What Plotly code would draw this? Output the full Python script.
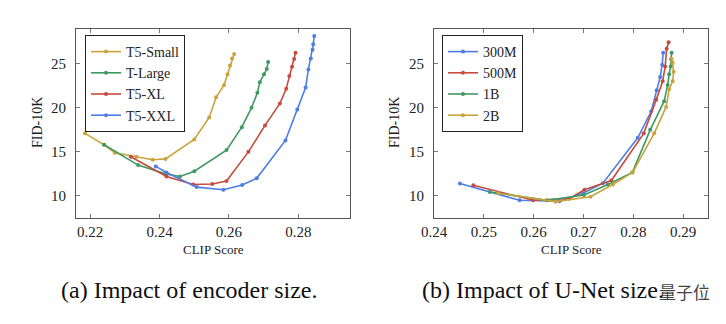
import plotly.graph_objects as go

# ---------------- data ----------------
# (a) encoder size
small_x = [0.2185, 0.2240, 0.2271, 0.2333, 0.2380, 0.2417, 0.2500, 0.2543, 0.2563, 0.2586, 0.2596, 0.2603, 0.2609, 0.2615]
small_y = [17.1, 15.8, 14.9, 14.45, 14.1, 14.2, 16.4, 18.9, 21.2, 22.6, 23.8, 24.8, 25.6, 26.1]
large_x = [0.2240, 0.2338, 0.2417, 0.2459, 0.2500, 0.2593, 0.2637, 0.2665, 0.2682, 0.2689, 0.2701, 0.2709, 0.2713]
large_y = [15.8, 13.5, 12.5, 12.2, 12.8, 15.2, 17.8, 20.0, 21.7, 22.9, 23.8, 24.4, 25.2]
xl_x = [0.2317, 0.2420, 0.2497, 0.2552, 0.2593, 0.2656, 0.2704, 0.2747, 0.2765, 0.2774, 0.2782, 0.2788, 0.2792]
xl_y = [14.45, 12.2, 11.3, 11.35, 11.7, 15.0, 18.0, 20.5, 22.15, 23.6, 24.65, 25.55, 26.25]
xxl_x = [0.2389, 0.2420, 0.2507, 0.2584, 0.2638, 0.2680, 0.2763, 0.2797, 0.2821, 0.2829, 0.2836, 0.2841, 0.2843, 0.2846]
xxl_y = [13.35, 12.65, 11.0, 10.7, 11.25, 12.0, 16.3, 19.8, 22.3, 24.35, 25.6, 26.6, 27.2, 28.15]

# (b) U-Net size
m300_x = [0.2452, 0.2572, 0.2652, 0.2699, 0.2739, 0.2809, 0.2836, 0.2847, 0.2854, 0.2858, 0.2860]
m300_y = [11.4, 9.5, 9.4, 10.3, 11.45, 16.6, 19.6, 22.0, 23.5, 24.9, 26.25]
m500_x = [0.2479, 0.2599, 0.2672, 0.2702, 0.2756, 0.2821, 0.2846, 0.2859, 0.2864, 0.2867, 0.2871]
m500_y = [11.2, 9.5, 9.7, 10.7, 11.75, 17.1, 20.9, 23.0, 24.7, 26.7, 27.45]
b1_x = [0.2512, 0.2627, 0.2701, 0.2749, 0.2798, 0.2834, 0.2862, 0.2869, 0.2872, 0.2875, 0.2876, 0.2877]
b1_y = [10.45, 9.5, 10.1, 11.3, 12.65, 17.5, 20.75, 22.6, 23.8, 24.7, 25.5, 26.25]
b2_x = [0.2529, 0.2644, 0.2714, 0.2759, 0.2799, 0.2842, 0.2866, 0.2872, 0.2879, 0.2881, 0.2879, 0.2877]
b2_y = [10.3, 9.35, 9.9, 11.3, 12.7, 17.1, 20.1, 22.1, 23.0, 24.1, 25.1, 25.55]

left_names = ["T5-Small", "T-Large", "T5-XL", "T5-XXL"]
right_names = ["300M", "500M", "1B", "2B"]
left_ticks = [0.22, 0.24, 0.26, 0.28]
right_ticks = [0.24, 0.25, 0.26, 0.27, 0.28, 0.29]
y_ticks = [10, 15, 20, 25]

GOLD = "#c9a33c"
GREEN = "#3f9a62"
RED = "#c84a3f"
BLUE = "#4f7de6"

FONT = "Liberation Serif"
W, H = 726, 324

fig = go.Figure()

left_series = [(small_x, small_y, GOLD), (large_x, large_y, GREEN), (xl_x, xl_y, RED), (xxl_x, xxl_y, BLUE)]
for name, (xs, ys, c) in zip(left_names, left_series):
    fig.add_trace(go.Scatter(x=xs, y=ys, name=name, mode="lines+markers",
                             line=dict(color=c, width=1.6), marker=dict(color=c, size=4),
                             xaxis="x", yaxis="y", legend="legend"))

right_series = [(m300_x, m300_y, BLUE), (m500_x, m500_y, RED), (b1_x, b1_y, GREEN), (b2_x, b2_y, GOLD)]
for name, (xs, ys, c) in zip(right_names, right_series):
    fig.add_trace(go.Scatter(x=xs, y=ys, name=name, mode="lines+markers",
                             line=dict(color=c, width=1.6), marker=dict(color=c, size=4),
                             xaxis="x2", yaxis="y2", legend="legend2"))

axcommon = dict(showline=True, linecolor="#555", linewidth=1, mirror="ticks",
                ticks="inside", ticklen=4, tickcolor="#777", showgrid=False, zeroline=False,
                automargin=False,
                tickfont=dict(family=FONT, size=15, color="#222"))

y0, y1 = 1 - 217.5 / H, 1 - 28.5 / H
legfont = dict(family=FONT, size=14, color="#222")
fig.update_layout(
    width=W, height=H, margin=dict(l=0, r=0, t=0, b=0, autoexpand=False),
    paper_bgcolor="white", plot_bgcolor="white", showlegend=True,
    xaxis=dict(domain=[76 / W, 350 / W], range=[0.2159, 0.2949], tickvals=left_ticks,
               ticktext=[f"{v:.2f}" for v in left_ticks], anchor="y", **axcommon),
    yaxis=dict(domain=[y0, y1], range=[7.55, 29.0], tickvals=y_ticks, anchor="x",
               ticklabelstandoff=6, **axcommon),
    xaxis2=dict(domain=[434 / W, 708 / W], range=[0.2400, 0.2950], tickvals=right_ticks,
                ticktext=[f"{v:.2f}" for v in right_ticks], anchor="y2", **axcommon),
    yaxis2=dict(domain=[y0, y1], range=[7.55, 29.0], tickvals=y_ticks, anchor="x2",
                ticklabelstandoff=6, **axcommon),
    legend=dict(x=85 / W, y=1 - 35 / H, xanchor="left", yanchor="top",
                bordercolor="#222", borderwidth=1, bgcolor="white",
                font=legfont, itemwidth=30, tracegroupgap=0),
    legend2=dict(x=442 / W, y=1 - 35 / H, xanchor="left", yanchor="top",
                 bordercolor="#222", borderwidth=1, bgcolor="white",
                 font=legfont, itemwidth=30, tracegroupgap=0),
)

ann = []
common = dict(xref="paper", yref="paper", xanchor="center", yanchor="middle", showarrow=False)
for cx in [(76 + 350) / 2, (434 + 708) / 2]:
    ann.append(dict(x=cx / W, y=1 - 249 / H, text="CLIP Score",
                    font=dict(family=FONT, size=13, color="#222"), **common))
for cx in [37, 394]:
    ann.append(dict(x=cx / W, y=1 - 123 / H, text="FID-10K", textangle=-90,
                    font=dict(family=FONT, size=14, color="#222"), **common))
ann.append(dict(x=189 / W, y=1 - 290 / H, text="(a) Impact of encoder size.",
                font=dict(family=FONT, size=24, color="#111"), **common))
ann.append(dict(x=543 / W, y=1 - 290 / H, text="(b) Impact of U-Net size.",
                font=dict(family=FONT, size=24, color="#111"), **common))
ann.append(dict(x=684 / W, y=1 - 291 / H, text="量子位",
                font=dict(family="Noto Sans CJK SC", size=17, color="#444"), **common))
fig.update_layout(annotations=ann)

fig.write_html("out.html")
